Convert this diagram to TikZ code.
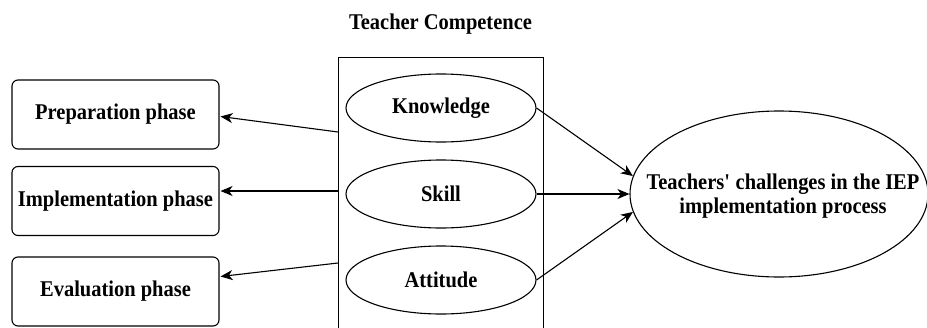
\documentclass[tikz,border=0pt]{standalone}
\usepackage{fontspec}
\setmainfont{Liberation Serif}
\newfontfamily\labfont[FakeStretch=0.91]{Liberation Serif}
\usetikzlibrary{shapes.geometric,arrows.meta,calc}
\begin{document}
\begin{tikzpicture}[x=1pt,y=-1pt,
  lab/.style={font=\labfont\fontsize{22.5}{25}\selectfont\bfseries},
  phasebox/.style={draw,line width=1.1pt,rounded corners=6pt,minimum width=207pt,minimum height=69pt,inner sep=0pt,lab},
  oval/.style={draw,line width=1.1pt,ellipse,minimum width=190pt,minimum height=68pt,inner sep=0pt,lab},
  arr/.style={line width=1.1pt,-{Stealth[length=12pt,width=10pt,inset=3.5pt]}}
]
\useasboundingbox (0,0) rectangle (927,327);
% title
\node[lab] (title) at (440.5,24) {Teacher Competence};
% container (bottom runs off the picture)
\node[draw,line width=1.1pt,minimum width=205pt,minimum height=290pt,inner sep=0pt,anchor=north west] (tc) at (338,57) {};
% ellipses
\node[oval] (kn) at (441,108) {Knowledge};
\node[oval] (sk) at (441,194) {Skill};
\node[oval] (at) at (441,280) {Attitude};
% phase boxes
\node[phasebox] (prep) at (115.5,114.5) {Preparation phase};
\node[phasebox] (impl) at (115.5,201) {Implementation phase};
\node[phasebox] (eval) at (115.5,291.5) {Evaluation phase};
% outcome
\node[draw,line width=1.1pt,ellipse,minimum width=298pt,minimum height=166pt,inner sep=0pt] (ch) at (779,194) {};
\node[lab,align=center] (cht) at (783,196) {Teachers\textquotesingle{} challenges in the IEP\\[-1pt]implementation process};
% free ends on the container's left side
\coordinate (l1) at (338,132);
\coordinate (l2) at (338,191);
\coordinate (l3) at (338,263);
\draw[arr] (l1) -- ($(prep.east)+(1,2)$);
\draw[arr] (l2) -- ($(impl.east)+(1,-10)$);
\draw[arr] (l3) -- ($(eval.east)+(1,-15)$);
% to outcome
\draw[arr] (kn.east) -- (ch.173);
\draw[arr] (sk.east) -- (ch.west);
\draw[arr] (at.east) -- (ch.187);
\end{tikzpicture}
\end{document}
